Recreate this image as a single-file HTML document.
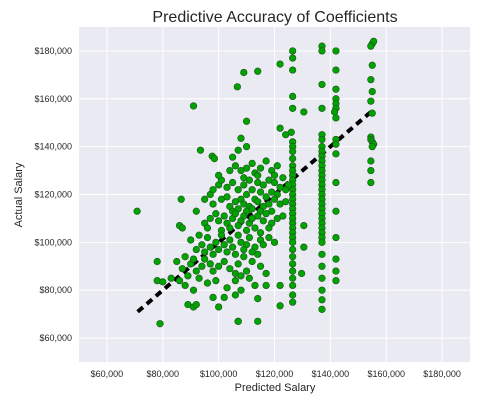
<!DOCTYPE html>
<html><head><meta charset="utf-8"><style>
body{margin:0;background:#fff;}
svg{display:block;font-family:"Liberation Sans",sans-serif;}
</style></head><body>
<svg id="chart" width="494" height="406">
<rect x="79" y="27" width="391" height="335" fill="#EAEAF2"/>
<g id="grid"></g>
<g id="xt"></g>
<g id="yt"></g>
<line id="fit" stroke="#000" stroke-width="4" stroke-dasharray="7,5"/>
<g id="pts"></g>
<text x="275" y="22" font-size="16" fill="#262626" text-anchor="middle">Predictive Accuracy of Coefficients</text>
<text x="275" y="391" font-size="11" fill="#262626" text-anchor="middle">Predicted Salary</text>
<text transform="translate(22,195) rotate(-90)" font-size="11" fill="#262626" text-anchor="middle">Actual Salary</text>
</svg>
<script>
const xTicks=[60000,80000,100000,120000,140000,160000,180000];
const yTicks=[60000,80000,100000,120000,140000,160000,180000];
const lineStart=[71000,71000];
const lineEnd=[155000,155000];
const predicted=[
126.5,126.5,126.5,126.5,126.5,126.5,126.5,126.5,126.5,126.5,126.5,126.5,126.5,126.5,126.5,126.5,126.5,126.5,126.5,126.5,126.5,126.5,126.5,126.5,126.5,126.5,126.5,126.5,126.5,126.5,126.5,126.5,126.5,126.5,
137,137,137,137,137,137,137,137,137,137,137,137,137,137,137,137,137,137,137,137,137,137,137,137,137,137,137,137,137,137,137,137,137,
142,142,142,142,142,142,142,142,142,142,142,142,142,142,142,142,
155,155.5,154.5,155,154.5,155,154.5,155,154.5,154.5,155,155.5,155,154.5,154.5,154.5,
91,109,114,106.7,110,108,93.5,97.7,98.5,105,107,110,70.8,79,78,78,80,86.6,86,87,89,91,92,98,100,102,106,107,107,114,114,122,122,129.7,130.5,130.5,141.5,130.5,122,122,124,126,
106,108,110,112,113,115,117,119,120,121,114,109,
100,103,105,107,109,111,112,114,116,118,120,122,123,124,110,115,117,119,121,125,
98,101,103,104,106,108,109,111,113,114,116,118,120,122,124,105,107,110,112,115,119,
95,97,99,100,102,103,105,106,108,109,111,112,114,116,117,119,121,123,96,101,104,107,110,113,115,118,
90,93,94,96,97,99,101,102,104,105,107,108,110,111,113,115,116,118,120,92,95,98,100,103,106,109,112,114,
85,87,88,90,91,92,94,95,97,98,100,102,104,106,107,108,110,112,115,117,109,89,93,
83,86,88,91,96,99,103,106,108,111,113,117,
92,95,97,101,104,100,98];
const actual=[
180,177,172,161,156,142,140,138,135,132,130,128,126,124,122,120,118,116,114,112,110,108,106,104,102,100,97,94,91,88,85,82,78,75,
182,180,166,156,145,143,140,138,136,134,132,130,128,126,124,122,120,118,116,114,112,110,108,106,104,102,100,95,90,85,80,76,72,
180,172,164,160,158,156,152,143,141,137,125,113,102,93,88,84,
183,184,182,174,168,163,159,154,144,143,142,141,140,134,130,125,
157,171,171.5,165,150.6,143.5,138.5,136,135,135.6,138.5,140,113,66,92,84,83.5,118,107,106,74,73,74,77,73,77,78,67,67,76.5,67,73.5,82,87,107,98,154.5,154.5,174.5,147.7,145,146,
132,130,131,133,129,131,134,130,128,132,128,127,
124,123,125,122,124,126,122,125,124,126,125,123,127,122,120,121,119,121,120,124,
116,118,119,115,117,118,116,115,118,117,115,116,118,116,117,113,114,113,114,113,113,
108,110,112,109,111,108,110,112,109,111,108,110,111,109,112,108,110,111,106,105,106,107,105,106,104,106,
101,103,99,102,98,100,103,99,101,98,103,100,99,102,98,101,99,102,100,97,96,95,97,96,95,97,96,95,
92,89,94,91,93,88,90,93,91,88,90,92,89,87,91,86,88,92,90,87,94,86,85,
85,84,82,80,83,84,81,84,80,85,82,82,
113,118,120,126,130,128,122];
const X0=79,X1=470,Y0=27,Y1=362,DMIN=50000,DMAX=190000;
function sx(v){return X0+(v-DMIN)/(DMAX-DMIN)*(X1-X0);}
function sy(v){return Y1-(v-DMIN)/(DMAX-DMIN)*(Y1-Y0);}
const NS='http://www.w3.org/2000/svg';
function fmt(v){return '$'+v.toLocaleString('en-US');}
const grid=document.getElementById('grid'),xt=document.getElementById('xt'),yt=document.getElementById('yt');
xTicks.forEach(v=>{
 const l=document.createElementNS(NS,'line');
 l.setAttribute('x1',sx(v));l.setAttribute('x2',sx(v));l.setAttribute('y1',Y0);l.setAttribute('y2',Y1);
 l.setAttribute('stroke','#fff');l.setAttribute('stroke-width','1');
 
 
 grid.appendChild(l);
 const t=document.createElementNS(NS,'text');
 t.setAttribute('x',sx(v));t.setAttribute('y',377);t.setAttribute('font-size','9');t.setAttribute('fill','#262626');t.setAttribute('text-anchor','middle');
 t.textContent=fmt(v);
 
 
 xt.appendChild(t);
});
yTicks.forEach(v=>{
 const l=document.createElementNS(NS,'line');
 l.setAttribute('y1',sy(v));l.setAttribute('y2',sy(v));l.setAttribute('x1',X0);l.setAttribute('x2',X1);
 l.setAttribute('stroke','#fff');l.setAttribute('stroke-width','1');
 
 
 grid.appendChild(l);
 const t=document.createElementNS(NS,'text');
 t.setAttribute('x',72);t.setAttribute('y',sy(v)+3);t.setAttribute('font-size','9');t.setAttribute('fill','#262626');t.setAttribute('text-anchor','end');
 t.textContent=fmt(v);
 
 
 yt.appendChild(t);
});
const fit=document.getElementById('fit');
fit.setAttribute('x1',sx(lineStart[0]));fit.setAttribute('y1',sy(lineStart[1]));
fit.setAttribute('x2',sx(lineEnd[0]));fit.setAttribute('y2',sy(lineEnd[1]));
const pts=document.getElementById('pts');
predicted.forEach((p,i)=>{
 const c=document.createElementNS(NS,'circle');
 c.setAttribute('cx',sx(p*1000));c.setAttribute('cy',sy(actual[i]*1000));c.setAttribute('r','3.3');
 c.setAttribute('fill','#00a400');c.setAttribute('stroke','#1f4f1f');c.setAttribute('stroke-width','0.6');
 
 
 pts.appendChild(c);
});
</script>
</body></html>
